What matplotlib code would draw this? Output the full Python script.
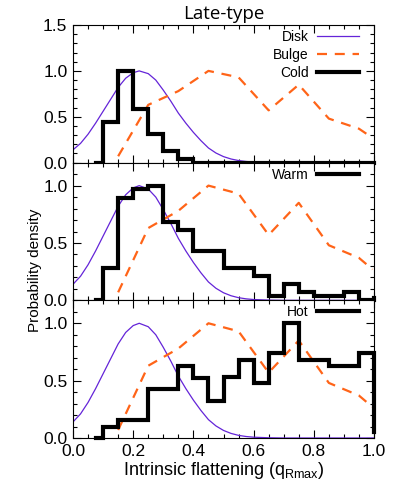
import numpy as np
import matplotlib
matplotlib.use("Agg")
import matplotlib.pyplot as plt
from matplotlib.ticker import MultipleLocator

plt.rcParams['font.family'] = ['Liberation Sans', 'DejaVu Sans']
plt.rcParams['mathtext.fontset'] = 'custom'
plt.rcParams['mathtext.rm'] = 'Liberation Sans'

# disk curve (same in every panel)
disk_x = [0.0, 0.025, 0.05, 0.075, 0.1, 0.125, 0.15, 0.175, 0.2, 0.22, 0.25, 0.275,
          0.3, 0.325, 0.35, 0.375, 0.4, 0.425, 0.45, 0.475, 0.5, 0.525, 0.55, 0.575,
          0.6, 0.65, 0.7, 0.8, 0.9, 1.0]
disk_y = [0.14, 0.21, 0.31, 0.43, 0.56, 0.69, 0.82, 0.92, 0.98, 1.0, 0.97, 0.90,
          0.79, 0.67, 0.54, 0.43, 0.33, 0.24, 0.16, 0.105, 0.066, 0.04, 0.023, 0.013,
          0.007, 0.002, 0.0, 0.0, 0.0, 0.0]

# bulge dashed line
bulge_x = [0.15, 0.25, 0.35, 0.45, 0.55, 0.65, 0.75, 0.85, 0.95, 0.995]
bulge_y = [0.07, 0.63, 0.78, 1.0, 0.93, 0.57, 0.85, 0.48, 0.37, 0.27]

# histogram step edges
edges = [0.075, 0.1, 0.15, 0.2, 0.25, 0.3, 0.35, 0.4, 0.45, 0.5, 0.55, 0.6,
         0.65, 0.7, 0.75, 0.8, 0.85, 0.9, 0.95, 1.0]
cold = [0.0, 0.44, 1.0, 0.59, 0.31, 0.13, 0.045, 0.0, 0.0, 0.0, 0.0, 0.0,
        0.0, 0.0, 0.0, 0.0, 0.0, 0.0, 0.0]
warm = [0.0, 0.28, 0.895, 0.97, 1.0, 0.68, 0.61, 0.43, 0.43, 0.28, 0.28, 0.21,
        0.04, 0.14, 0.07, 0.04, 0.04, 0.07, 0.0]
hot = [0.0, 0.10, 0.16, 0.16, 0.43, 0.43, 0.63, 0.52, 0.32, 0.53, 0.68, 0.48,
       0.74, 1.0, 0.68, 0.68, 0.63, 0.63, 0.74]
end_val = {'Cold': 0.0, 'Warm': 0.02, 'Hot': 0.05}

panels = [('Cold', cold, 1.5), ('Warm', warm, 1.2), ('Hot', hot, 1.2)]

fig = plt.figure(figsize=(3.93, 4.95), dpi=100)
top = 1 - 25 / 495
bot = 1 - 438 / 495
left = 73 / 393
right = 374 / 393
h = (top - bot) / 3

purple = '#6424d8'
orange = '#ff6418'

for i, (name, vals, ymax) in enumerate(panels):
    ax = fig.add_axes([left, top - (i + 1) * h, right - left, h])
    l1, = ax.plot(disk_x, disk_y, color=purple, lw=0.9)
    l2, = ax.plot(bulge_x, bulge_y, color=orange, lw=1.6, dashes=(4.5, 3.5))
    xs = edges + [1.0]
    ys = vals + [end_val[name], end_val[name]]
    l3, = ax.plot(xs, ys, drawstyle='steps-post', color='black', lw=3,
                  solid_joinstyle='miter', clip_on=False, zorder=5)
    ax.set_xlim(0, 1.0)
    ax.set_ylim(0, ymax)
    ax.xaxis.set_major_locator(MultipleLocator(0.2))
    ax.xaxis.set_minor_locator(MultipleLocator(0.05))
    ax.yaxis.set_major_locator(MultipleLocator(0.5))
    ax.yaxis.set_minor_locator(MultipleLocator(0.1))
    ax.tick_params(which='both', direction='in', top=True, right=True, width=0.8)
    ax.tick_params(which='major', length=6, labelsize=12.5, pad=4)
    ax.tick_params(which='minor', length=3)
    for s in ax.spines.values():
        s.set_linewidth(0.8)
    if i == 0:
        handles = [l1, l2, l3]
        labels = ['Disk', 'Bulge', 'Cold']
        ax.set_title('Late-type', fontsize=13.5, family=['Open Sans', 'DejaVu Sans'], pad=4)
    else:
        handles = [l3]
        labels = [name]
    ax.legend(handles, labels, loc='upper right', bbox_to_anchor=(0.965, 1.0),
              markerfirst=False, frameon=False,
              fontsize=10, handlelength=3.0, handletextpad=0.6, labelspacing=0.3,
              borderaxespad=0.35, borderpad=0.0)
    if i < 2:
        ax.set_xticklabels([])
    else:
        ax.set_xticks([0, 0.2, 0.4, 0.6, 0.8, 1.0])
        ax.set_xticklabels(['0.0', '0.2', '0.4', '0.6', '0.8', '1.0'])
        ax.set_xlabel(r'Intrinsic flattening (q$_{\mathrm{Rmax}}$)', fontsize=13, labelpad=1)

fig.text(35 / 393, 1 - 270 / 495, 'Probability density', rotation=90,
         ha='center', va='center', fontsize=11)

fig.savefig('out.png', dpi=100)
